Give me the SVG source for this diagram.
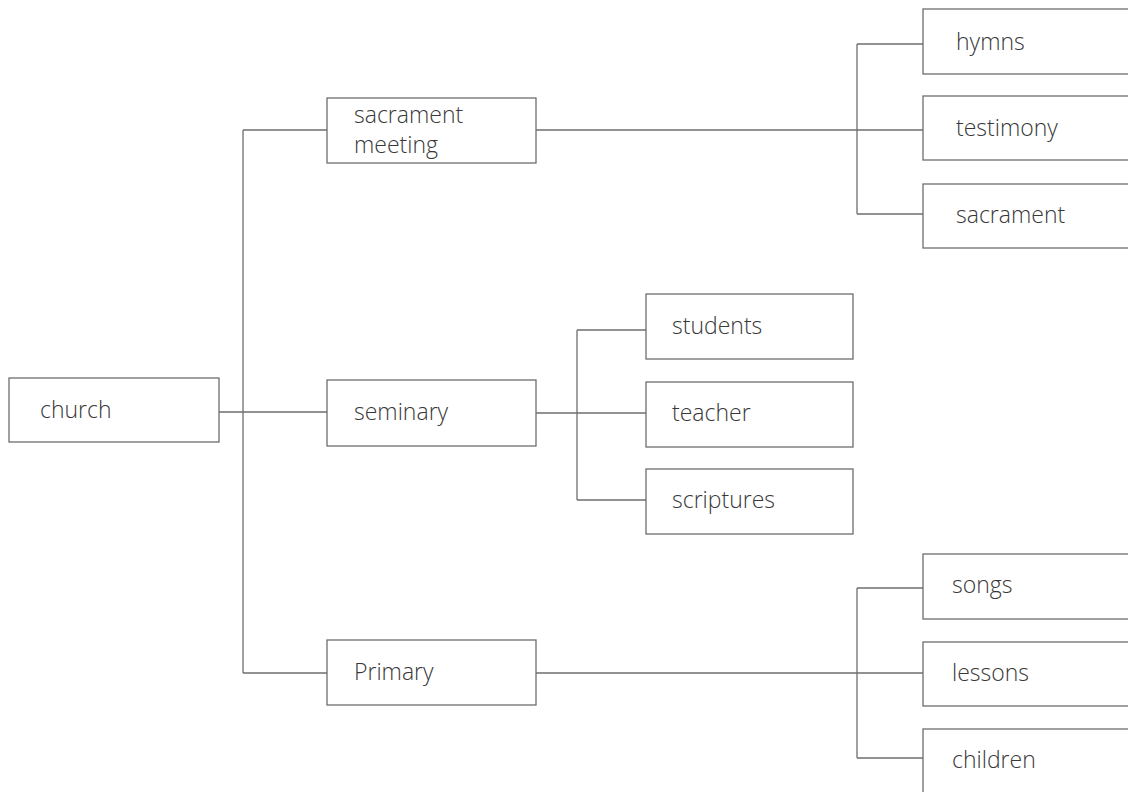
<svg xmlns="http://www.w3.org/2000/svg" width="1128" height="792" viewBox="0 0 1128 792">
<style>
.box{fill:#fff;stroke:#6e6e6e;stroke-width:1.3}
.lbl{font-family:"Open Sans","Noto Sans",sans-serif;font-size:23px;font-weight:300;fill:#383838}
.con{fill:none;stroke:#6e6e6e;stroke-width:1.3}
</style>
<rect width="1128" height="792" fill="#fff"/>
<g id="connectors">
<path class="con" d="M219,412 H327"/>
<path class="con" d="M243,130 V673"/>
<path class="con" d="M243,130 H327"/>
<path class="con" d="M243,673 H327"/>
<path class="con" d="M536,130 H923"/>
<path class="con" d="M857,44 V214"/>
<path class="con" d="M857,44 H923"/>
<path class="con" d="M857,214 H923"/>
<path class="con" d="M536,413 H646"/>
<path class="con" d="M577,330 V500"/>
<path class="con" d="M577,330 H646"/>
<path class="con" d="M577,500 H646"/>
<path class="con" d="M536,673 H923"/>
<path class="con" d="M857,588 V758"/>
<path class="con" d="M857,588 H923"/>
<path class="con" d="M857,758 H923"/>
</g>
<g id="church"><rect class="box" x="9" y="378" width="210" height="64"/><text class="lbl" x="40" y="418">church</text></g>
<g id="sacrament-meeting"><rect class="box" x="327" y="98" width="209" height="65"/><text class="lbl" x="354" y="123">sacrament</text><text class="lbl" x="354" y="153">meeting</text></g>
<g id="seminary"><rect class="box" x="327" y="380" width="209" height="66"/><text class="lbl" x="354" y="420">seminary</text></g>
<g id="primary"><rect class="box" x="327" y="640" width="209" height="65"/><text class="lbl" x="354" y="680">Primary</text></g>
<g id="hymns"><rect class="box" x="923" y="9" width="215" height="65"/><text class="lbl" x="956" y="50">hymns</text></g>
<g id="testimony"><rect class="box" x="923" y="96" width="215" height="64"/><text class="lbl" x="956" y="136">testimony</text></g>
<g id="sacrament"><rect class="box" x="923" y="184" width="215" height="64"/><text class="lbl" x="956" y="223">sacrament</text></g>
<g id="students"><rect class="box" x="646" y="294" width="207" height="65"/><text class="lbl" x="672" y="334">students</text></g>
<g id="teacher"><rect class="box" x="646" y="382" width="207" height="65"/><text class="lbl" x="672" y="421">teacher</text></g>
<g id="scriptures"><rect class="box" x="646" y="469" width="207" height="65"/><text class="lbl" x="672" y="508">scriptures</text></g>
<g id="songs"><rect class="box" x="923" y="554" width="215" height="65"/><text class="lbl" x="952" y="593">songs</text></g>
<g id="lessons"><rect class="box" x="923" y="642" width="215" height="64"/><text class="lbl" x="952" y="681">lessons</text></g>
<g id="children"><rect class="box" x="923" y="729" width="215" height="80"/><text class="lbl" x="952" y="768">children</text></g>
</svg>
